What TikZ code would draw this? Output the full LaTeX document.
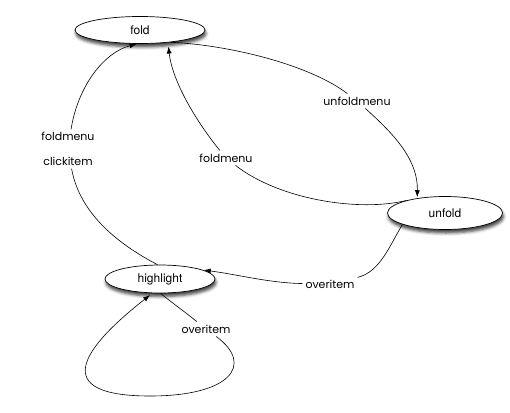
\documentclass[tikz,border=0pt]{standalone}
\usepackage{fontspec}
\setmainfont{TeX Gyre Heros}
\newfontfamily\labelfont{Poppins}
\usetikzlibrary{arrows.meta,shapes.geometric,shadows.blur}

\begin{document}
\begin{tikzpicture}[x=1pt,y=-1pt,
  state/.style={ellipse, draw, fill=white, line width=0.7pt, inner sep=0pt,
    font=\fontsize{12}{14}\selectfont,
    blur shadow={shadow xshift=1pt, shadow yshift=-3.5pt, shadow blur radius=3pt, shadow opacity=75}},
  trans/.style={fill=white, inner sep=3pt, font=\labelfont\fontsize{11}{13}\selectfont},
  edge/.style={line width=0.6pt},
  tip/.style={-{Latex[length=7pt,width=5pt]}, shorten >=1pt}]

\useasboundingbox (0,0) rectangle (510,412);

% states
\node[state, minimum width=130pt, minimum height=27pt] (fold)   at (140,30)  {fold};
\node[state, minimum width=115pt, minimum height=33pt] (unfold) at (445,213) {unfold};
\node[state, minimum width=110pt, minimum height=28pt] (hl)     at (160,279) {highlight};

% transition labels
\node[trans] (lunf)  at (357,101) {unfoldmenu};
\node[trans] (lfm)   at (226,158) {foldmenu};
\node[trans, align=center] (lfc) at (68,149) {foldmenu\\[11.5pt]clickitem};
\node[trans] (lov)   at (330,284) {overitem};
\node[trans] (lself) at (206,329) {overitem};

% fold -> unfold
\draw[edge] (fold.-22) .. controls (230,45) and (310,65) .. (lunf);
\draw[edge,tip] (lunf) .. controls (395,135) and (418,160) .. (unfold.152);

% unfold -> fold
\draw[edge] (unfold.162) .. controls (360,212) and (280,200) .. (lfm);
\draw[edge,tip,shorten >=4pt] (lfm) .. controls (195,120) and (172,80) .. (fold.-24);

% highlight -> fold
\draw[edge] (hl.100) .. controls (120,245) and (80,215) .. (lfc);
\draw[edge,tip] (lfc) .. controls (78,85) and (105,52) .. (fold.-100);

% unfold -> highlight
\draw[edge] (unfold.-165) .. controls (390,245) and (380,272) .. (lov);
\draw[edge,tip] (lov) .. controls (270,283) and (240,275) .. (hl.12);

% highlight -> highlight
\draw[edge] (hl.-88) .. controls (175,305) and (185,312) .. (lself);
\draw[edge,tip,shorten >=3pt] (lself) .. controls (255,365) and (230,396) .. (150,396)
  .. controls (50,396) and (80,350) .. (hl.-118);
\end{tikzpicture}
\end{document}
